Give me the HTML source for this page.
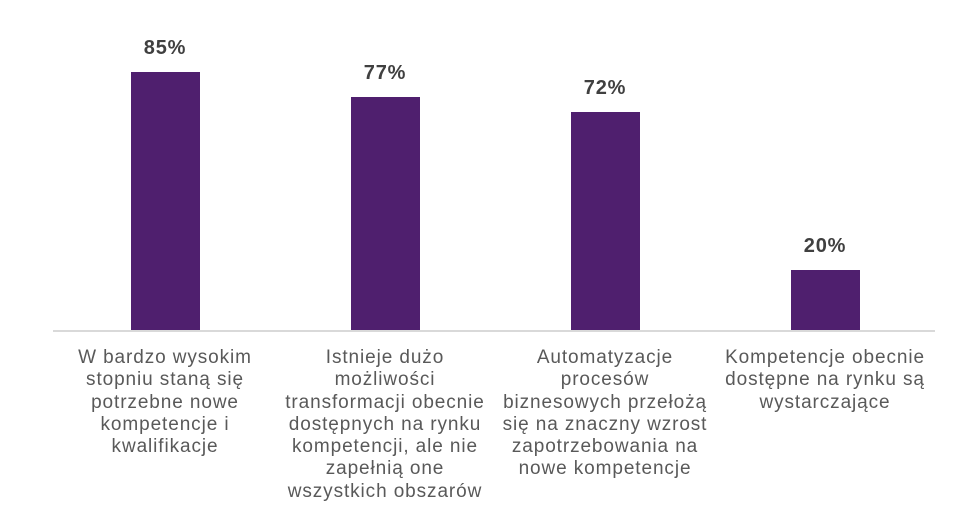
<!DOCTYPE html>
<html><head><meta charset="utf-8"><style>
body{margin:0;width:979px;height:532px;background:#fff;position:relative;overflow:hidden;font-family:"Liberation Sans",sans-serif}
.bar{position:absolute;width:69px;background:#4f1f6e}
.v{position:absolute;width:120px;text-align:center;font-weight:bold;font-size:20px;letter-spacing:0.8px;color:#404040}
.l{position:absolute;top:347px;width:240px;text-align:center;font-size:19px;letter-spacing:0.9px;line-height:22.3px;color:#595959;white-space:nowrap}
.ax{position:absolute;left:53px;width:882px;top:330px;height:1.5px;background:#d9d9d9}
</style></head><body>
<div class="bar" style="left:131px;top:72px;height:258px"></div>
<div class="bar" style="left:351px;top:97px;height:233px"></div>
<div class="bar" style="left:571px;top:112px;height:218px"></div>
<div class="bar" style="left:791px;top:270px;height:60px"></div>
<div class="ax"></div>
<div class="v" style="left:105px;top:37px">85%</div>
<div class="v" style="left:325px;top:62px">77%</div>
<div class="v" style="left:545px;top:77px">72%</div>
<div class="v" style="left:765px;top:235px">20%</div>
<div class="l" style="left:45px">W bardzo wysokim<br>stopniu staną się<br>potrzebne nowe<br>kompetencje i<br>kwalifikacje</div>
<div class="l" style="left:265px">Istnieje dużo<br>możliwości<br>transformacji obecnie<br>dostępnych na rynku<br>kompetencji, ale nie<br>zapełnią one<br>wszystkich obszarów</div>
<div class="l" style="left:485px">Automatyzacje<br>procesów<br>biznesowych przełożą<br>się na znaczny wzrost<br>zapotrzebowania na<br>nowe kompetencje</div>
<div class="l" style="left:705px">Kompetencje obecnie<br>dostępne na rynku są<br>wystarczające</div>
</body></html>
